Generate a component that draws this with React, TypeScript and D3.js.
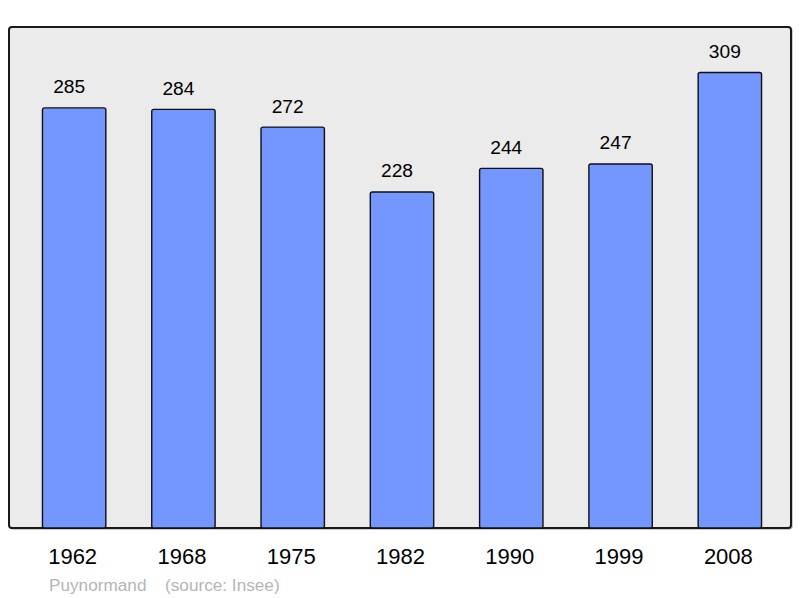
import React from "react";
import * as d3 from "d3";

const years = ["1962", "1968", "1975", "1982", "1990", "1999", "2008"];
const population = [285, 284, 272, 228, 244, 247, 309];
const commune = "Puynormand";
const source = "(source: Insee)";

const W = 800;
const H = 598;
const frame = { left: 9, top: 27, right: 791, bottom: 528 };

export default function App() {
  const x = d3
    .scaleBand<string>()
    .domain(years)
    .range([19.5, 784.5])
    .paddingInner(0.42)
    .paddingOuter(0.21);
  const y = d3
    .scaleLinear()
    .domain([0, (d3.max(population) as number) * 1.1])
    .range([frame.bottom, frame.top]);

  const font = "'Liberation Sans', Arial, sans-serif";

  return (
    <svg
      width={W}
      height={H}
      style={{ position: "absolute", left: 0, top: 0, display: "block" }}
    >
      <rect x={0} y={0} width={W} height={H} fill="#ffffff" />
      <rect
        x={frame.left + 1}
        y={frame.top + 1}
        width={frame.right - frame.left}
        height={frame.bottom - frame.top}
        rx={3}
        fill="none"
        stroke="#bbbbbb"
        strokeWidth={1.5}
      />
      <rect
        x={frame.left}
        y={frame.top}
        width={frame.right - frame.left}
        height={frame.bottom - frame.top}
        rx={3}
        fill="#ebebeb"
        stroke="#1a1a1a"
        strokeWidth={2}
      />
      {years.map((yr, i) => {
        const bx = x(yr) as number;
        const by = y(population[i]);
        const cx = bx + x.bandwidth() / 2;
        return (
          <g key={yr}>
            <rect
              x={bx}
              y={by}
              width={x.bandwidth()}
              height={frame.bottom - by}
              rx={2}
              fill="#7396ff"
              stroke="#111111"
              strokeWidth={1.4}
            />
            <text
              x={cx - 5}
              y={by - 14.5}
              textAnchor="middle"
              fontFamily={font}
              fontSize={19.2}
              fill="#000"
            >
              {population[i]}
            </text>
            <text
              x={cx - 1.5}
              y={564}
              textAnchor="middle"
              fontFamily={font}
              fontSize={22}
              fill="#000"
            >
              {yr}
            </text>
          </g>
        );
      })}
      <text x={49} y={591} fontFamily={font} fontSize={17.2} fill="#b5b5b5">
        {commune}
      </text>
      <text x={165} y={591} fontFamily={font} fontSize={17.2} fill="#b5b5b5">
        {source}
      </text>
    </svg>
  );
}
